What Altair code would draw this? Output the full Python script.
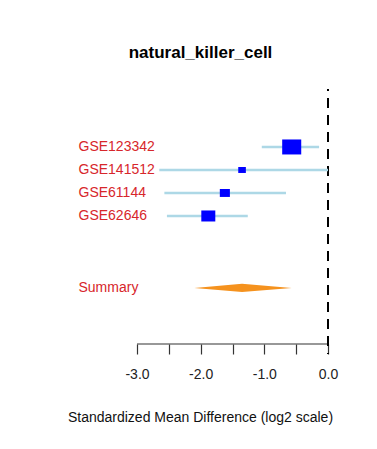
import altair as alt
import pandas as pd

# ---- data ----
studies = ["GSE123342", "GSE141512", "GSE61144", "GSE62646"]
effect = [-0.57, -1.35, -1.62, -1.88]
lower = [-1.04, -2.65, -2.57, -2.53]
upper = [-0.14, 0.0, -0.66, -1.26]
weight = [0.50, 0.08, 0.14, 0.27]   # relative box area (study weight)

summary_label = "Summary"
summary_est = -1.35
summary_lower = -2.10
summary_upper = -0.57

tick_values = [-3.0, -2.5, -2.0, -1.5, -1.0, -0.5, 0.0]
title_text = "natural_killer_cell"
x_title = "Standardized Mean Difference (log2 scale)"

# ---- layout helpers ----
n = len(studies)
row_pos = [i + 1 for i in range(n)]
summary_pos = n + 3.13
diamond_half = 0.18

df = pd.DataFrame({"study": studies, "pos": row_pos, "effect": effect,
                   "lower": lower, "upper": upper, "weight": weight})
diamond = pd.DataFrame({
    "x": [summary_lower, summary_est, summary_upper],
    "y": [summary_pos, summary_pos - diamond_half, summary_pos],
    "y2": [summary_pos, summary_pos + diamond_half, summary_pos],
})
zero_df = pd.DataFrame({"x": [0.0]})
axis_df = pd.DataFrame({"x": [min(tick_values)], "x2": [max(tick_values)]})

all_pos = row_pos + [summary_pos]
all_lab = studies + [summary_label]
label_expr = ""
for p, l in zip(all_pos, all_lab):
    label_expr += f"datum.value == {p} ? '{l}' : "
label_expr += "''"

FONT = "Liberation Sans"
RED = "#D7262B"
AXIS_COL = "#333333"
PLOT_H = 265
AXIS_OFFSET = 10

x_scale = alt.Scale(domain=[-3, 0], nice=False, zero=False)
y_scale = alt.Scale(domain=[-1.52, 10], reverse=True, nice=False, zero=False)

x_axis = alt.Axis(
    values=tick_values,
    labelExpr="datum.value % 1 == 0 ? (datum.value < 0 ? '-' : '') + format(abs(datum.value), '.1f') : ''",
    labelFlush=False, labelOverlap=False,
    tickSize=10, offset=-AXIS_OFFSET, grid=False, domain=False,
    tickColor=AXIS_COL, tickWidth=1.2,
    labelFontSize=14, labelColor="#222222", labelPadding=13, labelFont=FONT,
    title=x_title, titleFontSize=14, titleFontWeight="normal", titleColor="#111111",
    titleFont=FONT, titleX=63, titleY=77, titleAlign="center", titleBaseline="alphabetic",
)
y_axis = alt.Axis(
    values=all_pos, labelExpr=label_expr, domain=False, domainColor="transparent",
    domainOpacity=0, ticks=False, tickSize=0, grid=False,
    labelAlign="left", labelBaseline="middle", labelPadding=59,
    labelFontSize=14, labelColor=RED, labelFont=FONT, title=None,
)

axis_line = alt.Chart(axis_df).mark_rule(color=AXIS_COL, strokeWidth=1.2).encode(
    x=alt.X("x:Q", scale=x_scale, axis=x_axis),
    x2="x2:Q",
    y=alt.value(PLOT_H - AXIS_OFFSET),
)

zero_rule = alt.Chart(zero_df).mark_rule(
    color="black", strokeWidth=2, strokeDash=[10, 7], strokeDashOffset=8
).encode(x=alt.X("x:Q", scale=x_scale, axis=x_axis))

ci = alt.Chart(df).mark_rule(color="#ADD8E6", strokeWidth=2.5).encode(
    x=alt.X("lower:Q", scale=x_scale, axis=x_axis),
    x2="upper:Q",
    y=alt.Y("pos:Q", scale=y_scale, axis=y_axis),
)

boxes = alt.Chart(df).mark_point(
    shape="M-1.27,-1L1.27,-1L1.27,1L-1.27,1Z", filled=True, color="#0000FF", opacity=1
).encode(
    x=alt.X("effect:Q", scale=x_scale, axis=x_axis),
    y=alt.Y("pos:Q", scale=y_scale, axis=y_axis),
    size=alt.Size("weight:Q", scale=alt.Scale(domain=[0, 0.5], range=[0, 225]), legend=None),
)

diam = alt.Chart(diamond).mark_area(color="#F5921E", orient="vertical", opacity=1).encode(
    x=alt.X("x:Q", scale=x_scale, axis=x_axis),
    y=alt.Y("y:Q", scale=y_scale, axis=y_axis),
    y2="y2:Q",
)

chart = alt.layer(axis_line, zero_rule, ci, boxes, diam).properties(
    width=191, height=PLOT_H,
    title=alt.TitleParams(title_text, fontSize=17, fontWeight="bold", font=FONT,
                          anchor="middle", dx=-32, offset=13, baseline="alphabetic",
                          color="#000000"),
    autosize=alt.AutoSizeParams(type="none"),
    padding={"left": 129, "top": 81, "right": 41, "bottom": 87},
    view=alt.ViewBackground(stroke="transparent", strokeWidth=0),
).configure_view(stroke="transparent", strokeWidth=0).configure(font=FONT).configure_axis(
    domain=False, domainColor="transparent", gridColor="transparent"
).configure_axisLeft(domain=False, domainColor="transparent")

chart.save("out.html", embed_options={"renderer": "svg", "actions": False})
